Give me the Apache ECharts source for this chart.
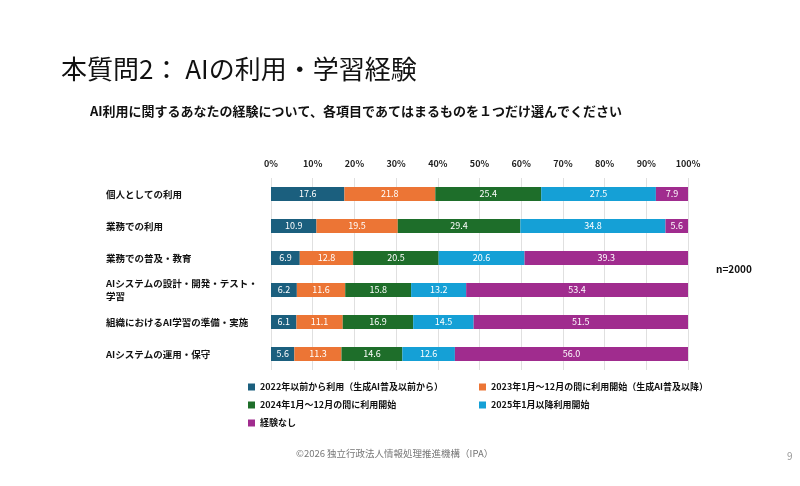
<!DOCTYPE html>
<html>
<head>
<meta charset="utf-8">
<script src="https://cdn.jsdelivr.net/npm/echarts@6/dist/echarts.min.js"></script>
<style>
  html, body { margin: 0; padding: 0; background: #fff; }
  #chart { width: 800px; height: 486px; }
</style>
</head>
<body>
<div id="chart"></div>
<script>
// 項目
var categories = [
  '個人としての利用',
  '業務での利用',
  '業務での普及・教育',
  'AIシステムの設計・開発・テスト・学習',
  '組織におけるAI学習の準備・実施',
  'AIシステムの運用・保守'
];
var seriesNames = [
  '2022年以前から利用（生成AI普及以前から）',
  '2023年1月～12月の間に利用開始（生成AI普及以降）',
  '2024年1月～12月の間に利用開始',
  '2025年1月以降利用開始',
  '経験なし'
];
var colors = ['#1b5f7e', '#ec7535', '#1e6e2a', '#15a0d6', '#a02c8e'];

// 割合（%）
var before2022 = [17.6, 10.9, 6.9, 6.2, 6.1, 5.6];
var in2023 = [21.8, 19.5, 12.8, 11.6, 11.1, 11.3];
var in2024 = [25.4, 29.4, 20.5, 15.8, 16.9, 14.6];
var after2025 = [27.5, 34.8, 20.6, 13.2, 14.5, 12.6];
var noExperience = [7.9, 5.6, 39.3, 53.4, 51.5, 56.0];
var values = [before2022, in2023, in2024, after2025, noExperience];

var font = '"Noto Sans CJK JP", "Noto Sans", sans-serif';

var chart = echarts.init(document.getElementById('chart'));

var series = seriesNames.map(function (name, i) {
  return {
    name: name,
    type: 'bar',
    stack: 'total',
    barWidth: 14,
    itemStyle: { color: colors[i] },
    label: {
      show: true,
      position: 'inside',
      color: '#fff',
      fontSize: 9,
      fontFamily: font,
      formatter: function (p) { return p.value.toFixed(1); }
    },
    data: values[i]
  };
});

chart.setOption({
  animation: false,
  textStyle: { fontFamily: font },
  graphic: [
    {
      type: 'text', left: 61, top: 56,
      style: { text: '本質問2： AIの利用・学習経験', font: '26px ' + font, fill: '#111' }
    },
    {
      type: 'text', left: 90, top: 105,
      style: { text: 'AI利用に関するあなたの経験について、各項目であてはまるものを１つだけ選んでください', font: 'bold 13px ' + font, fill: '#111' }
    },
    {
      type: 'text', left: 716, top: 264,
      style: { text: 'n=2000', font: 'bold 10px ' + font, fill: '#111' }
    },
    {
      type: 'text', left: 296, top: 449,
      style: { text: '©2026 独立行政法人情報処理推進機構（IPA）', font: '9.5px ' + font, fill: '#777' }
    },
    {
      type: 'text', left: 787, top: 451,
      style: { text: '9', font: '10px ' + font, fill: '#999' }
    }
  ],
  legend: [
    {
      orient: 'vertical', left: 248, top: 381, itemGap: 6,
      itemWidth: 7, itemHeight: 7, icon: 'rect', padding: 0,
      textStyle: { fontSize: 9, fontWeight: 'bold', color: '#111', fontFamily: font, lineHeight: 12 },
      data: [seriesNames[0], seriesNames[2], seriesNames[4]]
    },
    {
      orient: 'vertical', left: 479, top: 381, itemGap: 6,
      itemWidth: 7, itemHeight: 7, icon: 'rect', padding: 0,
      textStyle: { fontSize: 9, fontWeight: 'bold', color: '#111', fontFamily: font, lineHeight: 12 },
      data: [seriesNames[1], seriesNames[3]]
    }
  ],
  grid: { left: 271, right: 112, top: 178, bottom: 116 },
  xAxis: {
    type: 'value',
    position: 'top',
    min: 0,
    max: 100,
    interval: 10,
    axisLine: { show: false },
    axisTick: { show: false },
    axisLabel: {
      margin: 10,
      fontSize: 9,
      fontWeight: 'bold',
      color: '#222',
      formatter: '{value}%'
    },
    splitLine: { lineStyle: { color: '#e0e0e0' } }
  },
  yAxis: {
    type: 'category',
    inverse: true,
    data: categories,
    axisLine: { show: false },
    axisTick: { show: false },
    axisLabel: {
      align: 'left',
      margin: 165,
      fontSize: 9.5,
      fontWeight: 'bold',
      color: '#111',
      lineHeight: 13,
      formatter: function (v) {
        return v === 'AIシステムの設計・開発・テスト・学習' ? 'AIシステムの設計・開発・テスト・\n学習' : v;
      }
    }
  },
  series: series
});
</script>
</body>
</html>
